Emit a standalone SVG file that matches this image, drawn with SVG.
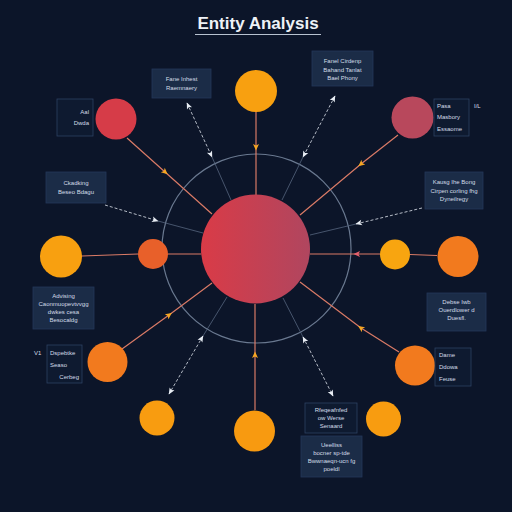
<svg xmlns="http://www.w3.org/2000/svg" width="512" height="512" viewBox="0 0 512 512">
<defs>
<linearGradient id="hubGrad" x1="0" y1="0" x2="1" y2="0">
<stop offset="0" stop-color="#d93b47"/>
<stop offset="1" stop-color="#b0465f"/>
</linearGradient>
<marker id="yArrow" viewBox="-4 -4 8 8" markerWidth="8" markerHeight="8" refX="0" refY="0" orient="auto" markerUnits="userSpaceOnUse">
<path d="M-3,-3 L3.5,0 L-3,3 L-1.5,0 Z" fill="#f6a623"/>
</marker>
<marker id="rArrow" viewBox="-4 -4 8 8" markerWidth="8" markerHeight="8" refX="0" refY="0" orient="auto" markerUnits="userSpaceOnUse">
<path d="M-3,-3 L3.5,0 L-3,3 L-1.5,0 Z" fill="#e4606c"/>
</marker>
<marker id="wArrow" viewBox="-6 -4 8 8" markerWidth="8" markerHeight="8" refX="1" refY="0" orient="auto-start-reverse" markerUnits="userSpaceOnUse">
<path d="M-5,-2.8 L1.5,0 L-5,2.8 L-3.5,0 Z" fill="#e8edf4"/>
</marker>
</defs>
<style>
.bg{fill:#0c1529}
.title{font-family:"Liberation Sans",Arial,sans-serif;font-weight:bold;font-size:17px;fill:#eef2f7}
.t{font-family:"Liberation Sans",Arial,sans-serif;font-size:6px;fill:#d4dce8}
.box{fill:#1b2c47;stroke:#23385a;stroke-width:0.8}
.obox{fill:#0e1a30;stroke:#2c4162;stroke-width:0.8}
.solid{fill:none;stroke:#d97a66;stroke-width:1.2}
.dash{fill:none;stroke:#dfe5ee;stroke-width:0.8;stroke-dasharray:3 2}
.faint{fill:none;stroke:#56657e;stroke-width:0.8}
.ring{fill:none;stroke:#6a7990;stroke-width:1.2}
</style>
<rect class="bg" x="0" y="0" width="512" height="512"/>
<g id="title">
<text class="title" x="258" y="29" text-anchor="middle">Entity Analysis</text>
<line x1="195" y1="34.5" x2="321" y2="34.5" stroke="#b8c2d0" stroke-width="1"/>
</g>
<g id="ring"><circle class="ring" cx="256.5" cy="248.5" r="94.5"/></g>
<g id="connectors">
<path class="solid" d="M256,112 L256,147 L256,195" marker-mid="url(#yArrow)"/>
<path class="solid" d="M127,138 L165,172 L212,214" marker-mid="url(#yArrow)"/>
<path class="solid" d="M398,135 L361,164 L300,215" marker-mid="url(#yArrow)"/>
<path class="solid" d="M122,349 L169,315 L212,283" marker-mid="url(#yArrow)"/>
<path class="solid" d="M399,352 L361,328 L300,282" marker-mid="url(#yArrow)"/>
<path class="solid" stroke="#b8707a" d="M255,410 L255,355 L255,304" marker-mid="url(#yArrow)"/>
<path class="solid" stroke="#e3706e" d="M380,254 L357,254 L310,254" marker-mid="url(#rArrow)"/>
<line class="solid" stroke="#e88a5c" x1="437" y1="255.5" x2="410" y2="254.5"/>
<line class="solid" stroke="#e88a5c" x1="82" y1="256" x2="138" y2="254"/>
<line class="solid" stroke="#e0706a" x1="168" y1="254" x2="201" y2="254"/>
<path class="dash" d="M187,103 L212,157" marker-start="url(#wArrow)" marker-end="url(#wArrow)"/>
<line class="faint" x1="212" y1="157" x2="231" y2="200"/>
<path class="dash" d="M335,96 L303,157" marker-start="url(#wArrow)" marker-end="url(#wArrow)"/>
<line class="faint" x1="303" y1="157" x2="282" y2="200"/>
<path class="dash" d="M105,205 L158,221" marker-end="url(#wArrow)"/>
<line class="faint" x1="158" y1="221" x2="203" y2="233"/>
<path class="dash" d="M422,208 L356,224" marker-end="url(#wArrow)"/>
<line class="faint" x1="356" y1="224" x2="310" y2="235"/>
<path class="dash" d="M203,336 L169,394" marker-start="url(#wArrow)" marker-end="url(#wArrow)"/>
<line class="faint" x1="203" y1="336" x2="227" y2="297"/>
<path class="dash" d="M303,337 L333,396" marker-start="url(#wArrow)" marker-end="url(#wArrow)"/>
<line class="faint" x1="303" y1="337" x2="283" y2="298"/>
</g>
<g id="hub"><circle cx="255.5" cy="249" r="54.5" fill="url(#hubGrad)"/></g>
<g id="n-top"><circle cx="256" cy="91" r="21" fill="#f8a010"/></g>
<g id="n-topleft"><circle cx="116" cy="119" r="20.5" fill="#d63c48"/></g>
<g id="n-topright"><circle cx="412.5" cy="117.5" r="21" fill="#b8485c"/></g>
<g id="n-left"><circle cx="61" cy="256.5" r="21" fill="#f8a010"/></g>
<g id="n-leftinner"><circle cx="153" cy="254" r="15" fill="#e8602a"/></g>
<g id="n-rightinner"><circle cx="395" cy="254.5" r="15" fill="#f8a510"/></g>
<g id="n-right"><circle cx="458" cy="256.5" r="20.5" fill="#f27a1e"/></g>
<g id="n-bottomleft"><circle cx="107.5" cy="362" r="20" fill="#f27a1e"/></g>
<g id="n-bottomright"><circle cx="415" cy="365.5" r="20" fill="#f27a1e"/></g>
<g id="n-bottom"><circle cx="254.5" cy="431" r="20.5" fill="#f89a10"/></g>
<g id="n-bottomleft2"><circle cx="157" cy="418" r="17.5" fill="#f89c10"/></g>
<g id="n-bottomright2"><circle cx="383.5" cy="419" r="17.5" fill="#f89c10"/></g>
<g id="box-a">
<rect class="obox" x="57" y="99" width="36" height="37"/>
<text class="t" x="89" y="114" text-anchor="end">Aal</text>
<text class="t" x="89" y="125" text-anchor="end">Dwda</text>
</g>
<g id="box-b">
<rect class="box" x="152" y="69" width="59" height="29"/>
<text class="t" x="181.5" y="81" text-anchor="middle">Fane Inhest</text>
<text class="t" x="181.5" y="90" text-anchor="middle">Raemnaery</text>
</g>
<g id="box-c">
<rect class="box" x="312" y="51" width="61" height="35"/>
<text class="t" x="342.5" y="63" text-anchor="middle">Fanel Cirdenp</text>
<text class="t" x="342.5" y="71.5" text-anchor="middle">Bahand Tanlat</text>
<text class="t" x="342.5" y="80" text-anchor="middle">Bael Phony</text>
</g>
<g id="box-d">
<rect class="obox" x="434" y="99" width="35" height="37"/>
<text class="t" x="437" y="108">Pasa</text>
<text class="t" x="437" y="119">Masbory</text>
<text class="t" x="437" y="131">Essaome</text>
<text class="t" x="474" y="108">I/L</text>
</g>
<g id="box-e">
<rect class="box" x="46" y="172" width="60" height="31"/>
<text class="t" x="76" y="185" text-anchor="middle">Ckadking</text>
<text class="t" x="76" y="194" text-anchor="middle">Beseo Bdagu</text>
</g>
<g id="box-f">
<rect class="box" x="425" y="172" width="58" height="37"/>
<text class="t" x="454" y="184" text-anchor="middle">Kausg Ihe Bong</text>
<text class="t" x="454" y="192.5" text-anchor="middle">Cirpen corling fhg</text>
<text class="t" x="454" y="201" text-anchor="middle">Dyneilregy</text>
</g>
<g id="box-g">
<rect class="box" x="33" y="287" width="61" height="42"/>
<text class="t" x="63.5" y="298" text-anchor="middle">Advising</text>
<text class="t" x="63.5" y="306" text-anchor="middle">Caonmuopevtvvgg</text>
<text class="t" x="63.5" y="314" text-anchor="middle">dwkes cesa</text>
<text class="t" x="63.5" y="322" text-anchor="middle">Besocaldg</text>
</g>
<g id="box-h">
<text class="t" x="34" y="355">V1</text>
<rect class="obox" x="47" y="345" width="35" height="38"/>
<text class="t" x="50" y="355">Dspebtke</text>
<text class="t" x="50" y="367">Seaso</text>
<text class="t" x="79" y="379" text-anchor="end">Cerbeg</text>
</g>
<g id="box-i">
<rect class="box" x="427" y="293" width="59" height="38"/>
<text class="t" x="456.5" y="304" text-anchor="middle">Debse Iwb</text>
<text class="t" x="456.5" y="312" text-anchor="middle">Ouerdlower d</text>
<text class="t" x="456.5" y="320" text-anchor="middle">Duesfl.</text>
</g>
<g id="box-j">
<rect class="obox" x="435" y="348" width="36" height="38"/>
<text class="t" x="439" y="357">Dame</text>
<text class="t" x="439" y="369">Ddowa</text>
<text class="t" x="439" y="381">Feuse</text>
</g>
<g id="box-k">
<rect class="obox" x="305" y="403" width="52" height="30"/>
<text class="t" x="331" y="412" text-anchor="middle">Rfeqeafnfed</text>
<text class="t" x="331" y="420" text-anchor="middle">ow Werse</text>
<text class="t" x="331" y="428" text-anchor="middle">Senaard</text>
</g>
<g id="box-l">
<rect class="box" x="301" y="436" width="61" height="41"/>
<text class="t" x="331.5" y="447" text-anchor="middle">Ueelliss</text>
<text class="t" x="331.5" y="455" text-anchor="middle">bocner sp-tde</text>
<text class="t" x="331.5" y="463" text-anchor="middle">Bwwnaeqn-ucn fg</text>
<text class="t" x="331.5" y="471" text-anchor="middle">poeldl</text>
</g>
</svg>
